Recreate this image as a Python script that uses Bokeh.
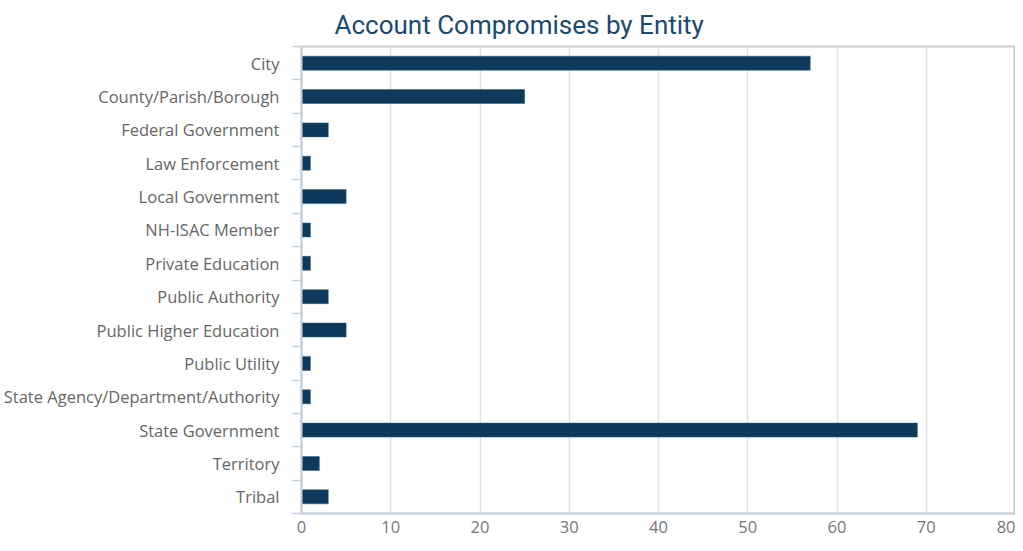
from bokeh.plotting import figure
from bokeh.models import Range1d, FixedTicker, ColumnDataSource
from bokeh.embed import file_html
from bokeh.resources import INLINE

categories = ["City", "County/Parish/Borough", "Federal Government", "Law Enforcement",
              "Local Government", "NH-ISAC Member", "Private Education", "Public Authority",
              "Public Higher Education", "Public Utility", "State Agency/Department/Authority",
              "State Government", "Territory", "Tribal"]
values = [57, 25, 3, 1, 5, 1, 1, 3, 5, 1, 1, 69, 2, 3]
x_ticks = [0, 10, 20, 30, 40, 50, 60, 70, 80]

n = len(categories)
ypos = [i + 0.5 for i in range(n)]
source = ColumnDataSource(dict(y=ypos, v=values, name=categories))

p = figure(width=1015, height=543, x_range=Range1d(0, 80), y_range=Range1d(n, 0),
           output_backend="svg", toolbar_location=None,
           min_border_top=0, min_border_right=0, min_border_bottom=30)

p.hbar(y="y", right="v", left=0, height=0.42, source=source,
       fill_color="#0d3a5c", line_color="#2b5a7e", line_width=0.5)

p.title.text = "Account Compromises by Entity"
p.title.text_font = "Roboto"
p.title.text_font_size = "26px"
p.title.text_font_style = "normal"
p.title.text_color = "#1b4a6e"
p.title.text_line_height = 0.8
p.title.align = "left"
p.title.offset = 33
p.title.standoff = 14

p.outline_line_color = "#cccccc"
p.outline_line_width = 2

# y axis
yax = p.yaxis[0]
yax.ticker = FixedTicker(ticks=ypos, minor_ticks=[float(i) for i in range(n + 1)])
yax.major_label_overrides = {y: c for y, c in zip(ypos, categories)}
yax.major_tick_line_color = None
yax.major_tick_out = 0
yax.major_tick_in = 0
yax.minor_tick_out = 10
yax.minor_tick_in = 0
yax.minor_tick_line_color = "#c5d2de"
yax.minor_tick_line_width = 1.5
yax.axis_line_color = "#c5d2de"
yax.axis_line_width = 2
yax.major_label_text_font = "Open Sans"
yax.major_label_text_font_size = "16.5px"
yax.major_label_text_color = "#666666"
yax.major_label_standoff = 12
p.ygrid.grid_line_color = None

# x axis
xax = p.xaxis[0]
xax.ticker = FixedTicker(ticks=x_ticks)
xax.major_tick_line_color = None
xax.major_tick_out = 0
xax.major_tick_in = 0
xax.minor_tick_line_color = None
xax.axis_line_color = "#c5d2de"
xax.axis_line_width = 2
xax.major_label_text_font = "Open Sans"
xax.major_label_text_font_size = "16.5px"
xax.major_label_text_color = "#777777"
xax.major_label_standoff = 7
p.xgrid.ticker = FixedTicker(ticks=x_ticks)
p.xgrid.grid_line_color = "#e2e2e2"
p.xgrid.grid_line_width = 1.5

open("out.html", "w").write(file_html(p, INLINE))
